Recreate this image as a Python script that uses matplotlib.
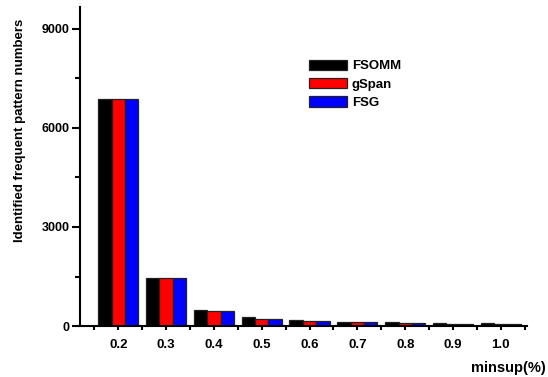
import matplotlib
matplotlib.use("Agg")
import matplotlib.pyplot as plt
import numpy as np

plt.rcParams['font.family'] = ['Liberation Sans', 'DejaVu Sans']

categories = ["0.2", "0.3", "0.4", "0.5", "0.6", "0.7", "0.8", "0.9", "1.0"]
fsomm = [6860, 1450, 480, 270, 180, 130, 120, 100, 90]
gspan = [6860, 1450, 470, 200, 140, 110, 80, 70, 50]
fsg = [6860, 1450, 470, 200, 140, 110, 80, 70, 50]
series = [("FSOMM", fsomm, "#000000"), ("gSpan", gspan, "#ff0000"), ("FSG", fsg, "#0000ff")]

fig = plt.figure(figsize=(5.48, 3.77), dpi=100)
ax = fig.add_axes([0.146, 0.135, 0.816, 0.846])

x = np.arange(len(categories))
w = 0.28
for i, (name, vals, col) in enumerate(series):
    ax.bar(x + (i - 1) * w, vals, width=w, color=col, edgecolor="#222222",
           linewidth=0.9, label=name)

ax.set_xlim(-0.8, 8.55)
ax.set_ylim(0, 9650)
ax.set_yticks([0, 3000, 6000, 9000])
ax.set_yticks([1500, 4500, 7500], minor=True)
ax.set_xticks(x)
ax.set_xticks(np.arange(-0.5, 9, 1), minor=True)
ax.set_xticklabels(categories)
for s in ["top", "right"]:
    ax.spines[s].set_visible(False)
for s in ["left", "bottom"]:
    ax.spines[s].set_linewidth(1.5)
ax.tick_params(axis="y", which="major", direction="out", length=6, width=1.5,
               labelsize=9, pad=1.5)
ax.tick_params(axis="y", which="minor", direction="out", length=3.5, width=1.5)
ax.tick_params(axis="x", which="major", direction="out", length=3, width=1.5,
               labelsize=9.5, pad=6)
ax.tick_params(axis="x", which="minor", direction="out", length=3, width=1.5)
for lbl in ax.get_xticklabels() + ax.get_yticklabels():
    lbl.set_fontweight("bold")

fig.text(20 / 548, 1 - 130 / 377, "Identified frequent pattern numbers", rotation=90,
         ha="center", va="center", fontsize=9.5, fontweight="bold")
fig.text(546 / 548, 1 - 368 / 377, "minsup(%)", ha="right", va="center",
         fontsize=10.5, fontweight="bold")

leg = ax.legend(loc="upper left", bbox_to_anchor=(0.485, 0.873), frameon=False,
                prop={"size": 9.5, "weight": "bold"}, handlelength=2.9, handleheight=0.85,
                handletextpad=0.35, labelspacing=0.42)

fig.savefig("out.png", dpi=100)
